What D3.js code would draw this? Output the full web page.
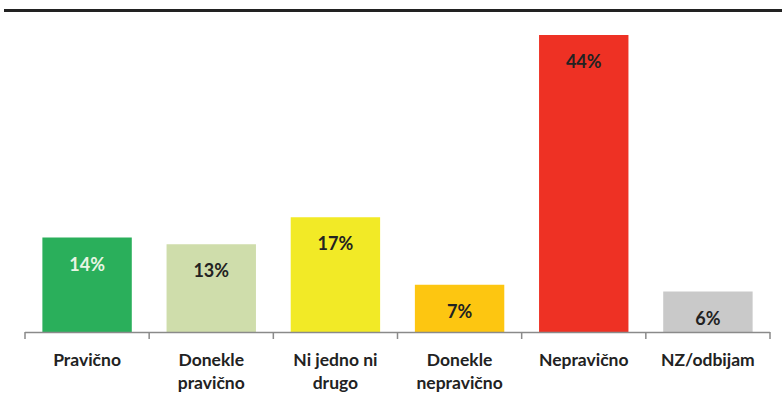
<!DOCTYPE html>
<html>
<script src="https://d3js.org/d3.v7.min.js"></script>

<head>
    <style>
        body {
            margin: 0;
            background-color: #ffffff;
            font-family: Lato, "Open Sans", sans-serif;
        }

        svg {
            display: block;
        }
    </style>
</head>

<body>
</body>
<script>
    const categories = ["Pravično", "Donekle pravično", "Ni jedno ni drugo", "Donekle nepravično", "Nepravično", "NZ/odbijam"];
    const values = [14, 13, 17, 7, 44, 6];
    const colors = ["#2aaf5b", "#cfddab", "#f2ea26", "#fdc611", "#ee3124", "#c9c9c9"];
    const labelColors = ["#e8f5e4", "#222222", "#222222", "#222222", "#222222", "#222222"];

    const width = 782,
        height = 411;
    const svg = d3.select("body").append("svg").attr("width", width).attr("height", height);

    // rule across the top
    svg.append("rect")
        .attr("x", 4).attr("y", 9)
        .attr("width", width - 4).attr("height", 3)
        .attr("fill", "#222");

    const x = d3.scaleBand()
        .domain(categories)
        .range([25, 770])
        .paddingInner(0.28)
        .paddingOuter(0.14);
    const y = d3.scaleLinear()
        .domain([0, 44])
        .range([332, 35]);

    svg.selectAll("rect.bar")
        .data(values)
        .join("rect")
        .attr("class", "bar")
        .attr("x", (d, i) => x(categories[i]))
        .attr("width", x.bandwidth())
        .attr("y", d => y(d))
        .attr("height", d => y(0) - y(d))
        .attr("fill", (d, i) => colors[i]);

    svg.selectAll("text.value")
        .data(values)
        .join("text")
        .attr("class", "value")
        .attr("x", (d, i) => x(categories[i]) + x.bandwidth() / 2)
        .attr("y", d => y(d) + 33)
        .attr("text-anchor", "middle")
        .attr("font-weight", "bold")
        .attr("font-size", 18)
        .attr("fill", (d, i) => labelColors[i])
        .text(d => d + "%");

    // axis line with ticks at band edges
    const edges = d3.range(categories.length + 1).map(i => 25 + i * (745 / categories.length));
    svg.append("line")
        .attr("x1", 25).attr("x2", 770)
        .attr("y1", 332.5).attr("y2", 332.5)
        .attr("stroke", "#8a8a8a").attr("stroke-width", 1.5);
    svg.selectAll("line.tick")
        .data(edges)
        .join("line")
        .attr("class", "tick")
        .attr("x1", d => d).attr("x2", d => d)
        .attr("y1", 332).attr("y2", 339)
        .attr("stroke", "#8a8a8a").attr("stroke-width", 1.5);

    const labels = svg.selectAll("text.cat")
        .data(categories)
        .join("text")
        .attr("class", "cat")
        .attr("text-anchor", "middle")
        .attr("font-weight", "bold")
        .attr("font-size", 17.5)
        .attr("fill", "#222");
    labels.each(function (d) {
        const words = d.split(" ");
        let lines = [d];
        if (d === "Donekle pravično" || d === "Donekle nepravično") lines = [words[0], words.slice(1).join(" ")];
        if (d === "Ni jedno ni drugo") lines = ["Ni jedno ni", "drugo"];
        d3.select(this).selectAll("tspan")
            .data(lines)
            .join("tspan")
            .attr("x", x(d) + x.bandwidth() / 2)
            .attr("y", (l, j) => 366 + j * 23)
            .text(l => l);
    });
</script>

</html>
